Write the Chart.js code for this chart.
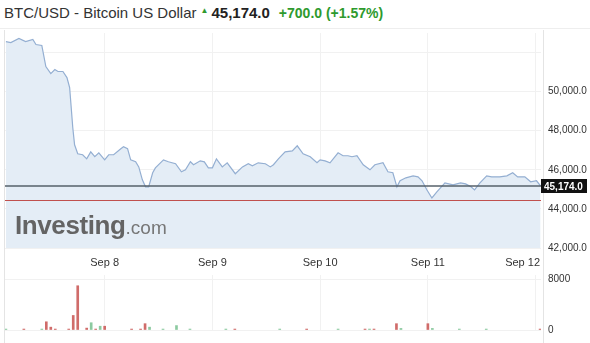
<!DOCTYPE html>
<html>
<head>
<meta charset="utf-8">
<script src="https://cdn.jsdelivr.net/npm/chart.js@4.4.0/dist/chart.umd.min.js"></script>
<style>
  body { margin: 0; background: #fff; font-family: Arial, "Liberation Sans", sans-serif; }
  #wrap { position: relative; width: 590px; height: 343px; overflow: hidden; }
  #head { position: absolute; left: 4px; top: 4px; white-space: nowrap; font-size: 15px; color: #333; }
  #head .arrow { color: #2e9a2e; font-size: 8px; vertical-align: 5px; margin: 0 3px 0 4px; }
  #head .last { font-weight: bold; color: #222; }
  #head .chg { font-weight: bold; color: #2e9a2e; font-size: 14px; margin-left: 9px; }
  #priceBox { position: absolute; left: 0; top: 0; }
  #volBox { position: absolute; left: 0; top: 262px; }
  #logo { position: absolute; left: 15px; top: 210px; color: #646464; white-space: nowrap; pointer-events: none; }
  #logo b { font-size: 26px; letter-spacing: -0.4px; }
  #logo span { font-size: 19px; color: #777; }
  #sep { position: absolute; left: 0; top: 28px; width: 590px; height: 1px; background: #eee; }
  .vline { position: absolute; top: 30px; width: 1px; height: 313px; background: #e4e4e4; }
</style>
</head>
<body>
<div id="wrap">
  <div id="head">BTC/USD - Bitcoin US Dollar<span class="arrow">&#9650;</span><span class="last">45,174.0</span><span class="chg">+700.0 (+1.57%)</span></div>
  <div id="sep"></div>
  <div class="vline" style="left:4px"></div>
  <div class="vline" style="left:543px"></div>
  <div id="priceBox"><canvas id="priceChart" width="590" height="272"></canvas></div>
  <div id="volBox"><canvas id="volChart" width="590" height="81"></canvas></div>
  <div id="logo"><b>Investing</b><span>.com</span></div>
</div>
<script>
// heures depuis le 8 sept. 00:00
const priceHours = [-22.0,-20.9,-19.1,-17.6,-16.0,-15.3,-14.0,-13.1,-12.0,-11.1,
  -10.4,-9.3,-8.4,-7.8,-7.1,-6.7,-6.0,-4.9,-4.0,-3.1,
  -2.2,-1.3,0.0,0.9,2.0,3.6,4.2,5.1,5.8,6.9,
  7.6,8.4,9.1,9.8,10.7,11.3,13.1,14.2,15.8,17.1,
  18.0,19.1,19.8,21.3,22.2,23.1,24.0,24.9,26.2,27.3,
  29.1,30.7,32.0,32.9,34.2,35.8,36.9,37.6,38.7,40.2,
  41.8,42.9,44.2,45.8,47.3,48.0,49.1,50.2,52.0,53.1,
  54.2,55.1,56.2,57.6,59.1,60.2,62.0,63.1,64.2,65.1,
  65.8,67.1,68.7,69.8,70.7,71.8,72.9,74.0,75.8,77.6,
  79.3,80.4,81.6,82.4,83.6,85.1,86.2,88.0,89.6,90.9,
  92.0,93.6,94.9,96.2,97.1];
const prices = [52560,52510,52720,52560,52670,52410,52360,51280,50920,51130,
  51030,51030,50720,50210,48150,47280,46820,46770,46560,46920,
  46670,46870,46510,46770,46770,47080,47180,47080,46510,46410,
  46150,45490,45130,45130,45850,46100,46510,46410,46310,45900,
  46000,46410,46260,46460,46410,46100,46100,46560,46150,46360,
  45800,46150,46310,46210,46360,46310,46150,46260,46560,46920,
  46970,47230,46820,46670,46360,46510,46460,46360,46870,46720,
  46720,46670,46720,46260,46000,46260,46360,45900,45850,45130,
  45440,45590,45690,45640,45440,44970,44560,44870,45330,45230,
  45330,45280,45130,44970,45330,45690,45640,45640,45690,45850,
  45640,45640,45390,45440,45174];

const volHours = [-22,-18,-14,-13,-12,-11,-8,-7,-6,-4,-3,-2,-1,0,6,8,9,10,13,16,19,27,29,39,45,52,58,59,60,65,66,72,73,79,85,97];
const volValues = [150,150,150,1300,450,150,150,2300,7000,300,1150,150,600,600,150,150,1000,450,150,700,150,150,150,150,150,150,150,150,150,1000,250,1000,250,150,150,150];
const volDir = ['u','d','u','d','d','d','d','d','d','d','u','d','u','d','d','d','d','u','u','u','u','u','d','u','d','u','d','u','d','d','u','d','u','u','u','d'];

const dayTicks = [0, 24, 48, 72, 96];
const dayLabels = ['Sep 8', 'Sep 9', 'Sep 10', 'Sep 11', 'Sep 12'];
const priceTicks = [42000, 44000, 46000, 48000, 50000, 52000];
const volTicks = [0, 8000];
const lastPrice = 45174;
const prevClose = 44474;

const FONT = 'Arial, "Liberation Sans", sans-serif';
const xMin = -22.2, xMax = 97.2;

// lignes horizontales + étiquette du dernier cours + dates
const overlayPlugin = {
  id: 'overlay',
  afterDatasetsDraw(chart) {
    const c = chart.ctx, a = chart.chartArea, y = chart.scales.y, x = chart.scales.x;
    c.save();
    const yr = Math.round(y.getPixelForValue(prevClose)) + 0.5;
    c.strokeStyle = '#c0504d'; c.lineWidth = 1;
    c.beginPath(); c.moveTo(a.left, yr); c.lineTo(a.right, yr); c.stroke();
    const yl = Math.round(y.getPixelForValue(lastPrice));
    c.strokeStyle = '#56606a'; c.lineWidth = 1.5;
    c.beginPath(); c.moveTo(a.left, yl); c.lineTo(a.right, yl); c.stroke();
    c.fillStyle = '#111';
    c.fillRect(a.right, yl - 7, 46, 14);
    c.fillStyle = '#fff';
    c.font = 'bold 10px ' + FONT;
    c.textBaseline = 'middle'; c.textAlign = 'left';
    c.fillText('45,174.0', a.right + 3, yl + 1);
    // dates
    c.fillStyle = '#333';
    c.font = '11px ' + FONT;
    c.textAlign = 'center';
    dayTicks.forEach((h, i) => {
      let px = x.getPixelForValue(h);
      const w = c.measureText(dayLabels[i]).width;
      if (px + w / 2 > a.right) px = a.right - w / 2 - 1;
      c.fillText(dayLabels[i], px, 263);
    });
    c.restore();
  }
};

new Chart(document.getElementById('priceChart'), {
  type: 'line',
  data: {
    datasets: [{
      data: priceHours.map((h, i) => ({ x: h, y: prices[i] })),
      borderColor: '#94afd2',
      backgroundColor: '#e4edf6',
      borderWidth: 1.2,
      fill: 'start',
      pointRadius: 0,
      tension: 0
    }]
  },
  options: {
    responsive: false,
    animation: false,
    layout: { padding: { top: 33, left: 5, right: 0, bottom: 24 } },
    plugins: { legend: { display: false }, tooltip: { enabled: false } },
    scales: {
      x: {
        type: 'linear', min: xMin, max: xMax,
        afterBuildTicks: s => { s.ticks = dayTicks.map(v => ({ value: v })); },
        ticks: { display: false },
        grid: { color: '#f1f1f1', drawTicks: false },
        border: { display: false }
      },
      y: {
        position: 'right', min: 42000, max: 53000,
        afterBuildTicks: s => { s.ticks = priceTicks.map(v => ({ value: v })); },
        afterFit: s => { s.width = 49; },
        ticks: {
          padding: 7, color: '#333', font: { size: 10, family: FONT },
          callback: v => v === 52000 ? '' : v.toLocaleString('en-US') + '.0'
        },
        grid: { color: '#f1f1f1', drawTicks: false },
        border: { display: false }
      }
    }
  },
  plugins: [overlayPlugin]
});

new Chart(document.getElementById('volChart'), {
  type: 'bar',
  data: {
    datasets: [{
      data: volHours.map((h, i) => ({ x: h, y: volValues[i] })),
      backgroundColor: volDir.map(d => d === 'u' ? '#8ccaa0' : '#d06c6a'),
      barThickness: 2
    }]
  },
  options: {
    responsive: false,
    animation: false,
    layout: { padding: { top: 8, left: 5, right: 0, bottom: 13 } },
    plugins: { legend: { display: false }, tooltip: { enabled: false } },
    scales: {
      x: {
        type: 'linear', min: xMin, max: xMax, offset: false,
        afterBuildTicks: s => { s.ticks = dayTicks.map(v => ({ value: v })); },
        ticks: { display: false },
        grid: { color: '#f1f1f1', drawTicks: false, offset: false },
        border: { display: false }
      },
      y: {
        position: 'right', min: 0, max: 8700,
        afterBuildTicks: s => { s.ticks = volTicks.map(v => ({ value: v })); },
        afterFit: s => { s.width = 49; },
        ticks: { padding: 7, color: '#333', font: { size: 10, family: FONT }, callback: v => String(v) },
        grid: { color: '#f1f1f1', drawTicks: false },
        border: { display: false }
      }
    }
  }
});
</script>
</body>
</html>
